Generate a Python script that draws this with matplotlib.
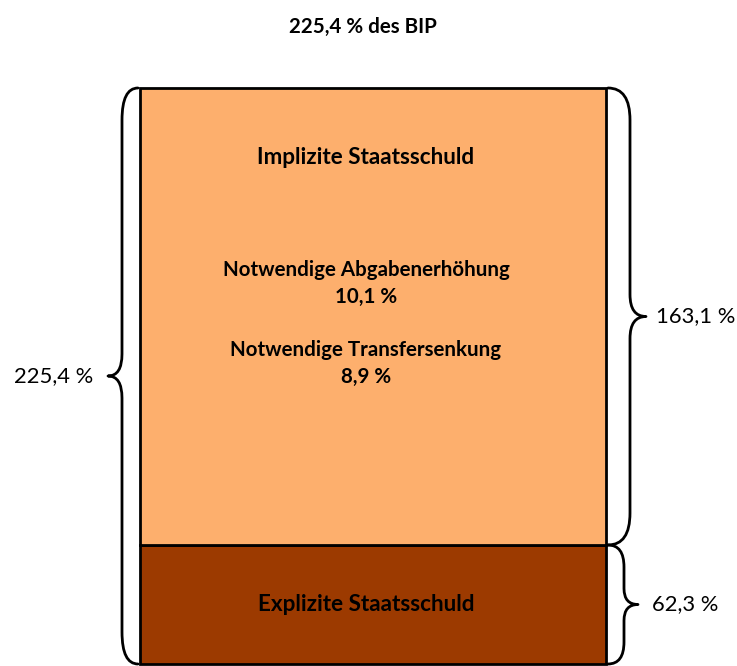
import matplotlib.pyplot as plt
from matplotlib.path import Path
from matplotlib.patches import PathPatch

# values (in % of GDP)
segments = ["Explizite Staatsschuld", "Implizite Staatsschuld"]
values = [62.3, 163.1]
total = 225.4
gap_names = ["Notwendige Abgabenerhöhung", "Notwendige Transfersenkung"]
gap_values = [10.1, 8.9]
colors = ["#9C3A00", "#FDAF6D"]

# schematic drawn heights (the original is not to scale)
drawn = [119, 457]


def fmt(v):
    return f"{v:.1f}".replace(".", ",") + " %"


def brace(ax, x, y0, y1, out, inner, end_r, tip_r, side):
    # curly brace from (x, y0) to (x, y1); side = +1 right, -1 left
    xm = x + side * inner
    xt = x + side * out
    ym = (y0 + y1) / 2
    verts = [
        (x, y0), (xm, y0), (xm, y0 + end_r),
        (xm, ym - tip_r),
        (xm, ym), (xt, ym),
        (xm, ym), (xm, ym + tip_r),
        (xm, y1 - end_r),
        (xm, y1), (x, y1),
    ]
    codes = [Path.MOVETO, Path.CURVE3, Path.CURVE3,
             Path.LINETO,
             Path.CURVE3, Path.CURVE3,
             Path.CURVE3, Path.CURVE3,
             Path.LINETO,
             Path.CURVE3, Path.CURVE3]
    ax.add_patch(PathPatch(Path(verts, codes), fill=False, lw=2, ec="black",
                           capstyle="round", joinstyle="round"))


plt.rcParams['font.family'] = ['Lato', 'DejaVu Sans']

fig = plt.figure(figsize=(7.37, 6.66), dpi=100)
ax = fig.add_axes([0, 0, 1, 1])
ax.set_xlim(0, 737)
ax.set_ylim(-2, 664)
ax.axis('off')

x_left, width = 140, 466
x_center = x_left + width / 2
x_text = x_center - 7
bottom = 0
tops = []
for h, c in zip(drawn, colors):
    ax.bar(x_center, h, width=width, bottom=bottom, color=c,
           edgecolor="black", linewidth=2)
    tops.append((bottom, bottom + h))
    bottom += h

x_right = x_left + width
bar_top = tops[-1][1]

# braces
brace(ax, x_left - 2, 0, bar_top, 30, 16, 32, 22, -1)
brace(ax, x_right + 2, tops[1][0], tops[1][1], 38, 22, 32, 22, 1)
brace(ax, x_right + 2, tops[0][0], tops[0][1], 30, 16, 22, 16, 1)

# side labels
ax.text(x_left - 47, bar_top / 2, fmt(total), ha="right", va="center",
        fontsize=15.8)
ax.text(x_right + 50, (tops[1][0] + tops[1][1]) / 2, fmt(values[1]),
        ha="left", va="center", fontsize=15.8)
ax.text(x_right + 46, (tops[0][0] + tops[0][1]) / 2, fmt(values[0]),
        ha="left", va="center", fontsize=15.8)

# labels inside bar
ax.text(x_text, (tops[0][0] + tops[0][1]) / 2, segments[0], ha="center",
        va="center", fontsize=16.2, fontweight="bold")
ax.text(x_text, bar_top - 69, segments[1], ha="center", va="center",
        fontsize=16.2, fontweight="bold")
for i, (name, v) in enumerate(zip(gap_names, gap_values)):
    y = bar_top - 182 - i * 80
    ax.text(x_text, y, name, ha="center", va="center", fontsize=14.8,
            fontweight="bold")
    ax.text(x_text, y - 27, fmt(v), ha="center", va="center", fontsize=14.8,
            fontweight="bold")

fig.text((x_text - 3) / 737, 1 - 27 / 666, fmt(total) + " des BIP",
         ha="center", va="center", fontsize=14.8, fontweight="bold")

fig.savefig("out.png", dpi=100)
